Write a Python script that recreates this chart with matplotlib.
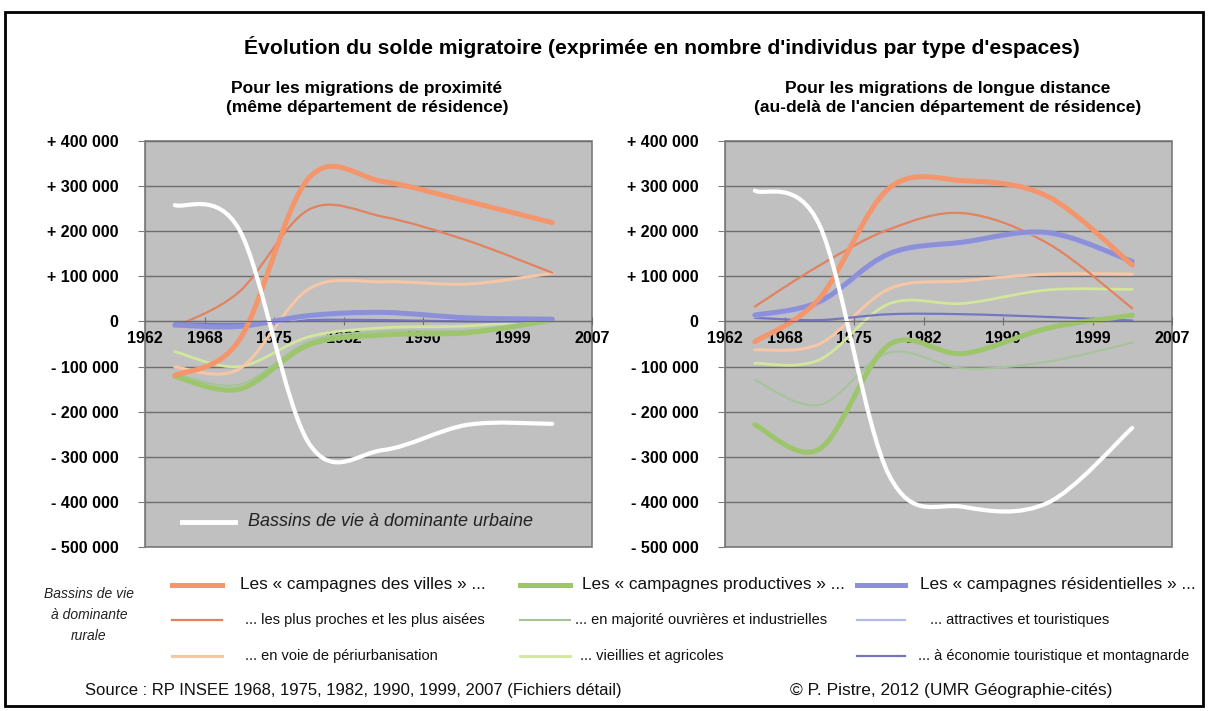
import numpy as np
import matplotlib.pyplot as plt
from matplotlib.path import Path
from matplotlib.patches import PathPatch, Rectangle
from matplotlib.lines import Line2D
from matplotlib.ticker import FuncFormatter

plt.rcParams['font.family'] = ['Liberation Sans', 'DejaVu Sans']

W, H = 1208, 711

# mid-points of the census periods 1962-68, 68-75, 75-82, 82-90, 90-99, 99-2007
years = [1965, 1971.5, 1978.5, 1986, 1994.5, 2003]
year_ticks = [1962, 1968, 1975, 1982, 1990, 1999, 2007]

# migrations de proximité (même département)
prox_urbain = [258000, 203000, -270000, -285000, -229000, -227000]
prox_villes = [-120000, -41000, 318000, 310000, 266000, 219000]
prox_proches = [-12000, 66000, 248000, 232000, 179000, 108000]
prox_periurb = [-101000, -105000, 72000, 88000, 83000, 107000]
prox_productives = [-122000, -150000, -52000, -30000, -25000, 3000]
prox_ouvrieres = [-115000, -140000, -45000, -22000, -20000, 0]
prox_vieillies = [-67000, -100000, -34000, -14000, -10000, 5000]
prox_residentielles = [-8000, -11000, 13000, 20000, 8000, 5000]
prox_attractives = [-12000, -14000, 8000, 15000, 10000, 5000]
prox_montagne = [-4000, -6000, 3000, 3000, 0, 0]

# migrations de longue distance
long_urbain = [290000, 214000, -340000, -411000, -402000, -236000]
long_villes = [-45000, 51000, 295000, 312000, 277000, 125000]
long_proches = [33000, 124000, 204000, 240000, 173000, 29000]
long_periurb = [-63000, -50000, 72000, 90000, 105000, 105000]
long_productives = [-229000, -283000, -52000, -71000, -15000, 14000]
long_ouvrieres = [-130000, -185000, -69000, -104000, -89000, -47000]
long_vieillies = [-93000, -85000, 39000, 40000, 70000, 71000]
long_residentielles = [14000, 44000, 150000, 176000, 197000, 133000]
long_attractives = [10000, 38000, 145000, 172000, 192000, 128000]
long_montagne = [8000, 3000, 16000, 16000, 10000, 2000]

# (name, colour, width) in drawing order; thin first, thick, then urban
styles = [
    ('ouvrieres', '#A5C49A', 1.5),
    ('vieillies', '#D2E69C', 2.0),
    ('periurb', '#F6C6A6', 2.2),
    ('proches', '#E2825E', 1.6),
    ('montagne', '#7377C2', 1.6),
    ('attractives', '#B6B9E8', 1.6),
    ('productives', '#9DC66C', 3.6),
    ('residentielles', '#8C90D8', 3.6),
    ('villes', '#F4956B', 3.6),
    ('urbain', '#FFFFFF', 3.0),
]

left_series = {'urbain': prox_urbain, 'villes': prox_villes, 'proches': prox_proches,
               'periurb': prox_periurb, 'productives': prox_productives,
               'ouvrieres': prox_ouvrieres, 'vieillies': prox_vieillies,
               'residentielles': prox_residentielles, 'attractives': prox_attractives,
               'montagne': prox_montagne}
right_series = {'urbain': long_urbain, 'villes': long_villes, 'proches': long_proches,
                'periurb': long_periurb, 'productives': long_productives,
                'ouvrieres': long_ouvrieres, 'vieillies': long_vieillies,
                'residentielles': long_residentielles, 'attractives': long_attractives,
                'montagne': long_montagne}


def smooth_path(xs, ys):
    # Excel-like smoothed line: cubic Bezier segments through every point
    pts = np.column_stack([xs, ys]).astype(float)
    n = len(pts)
    verts = [pts[0]]
    codes = [Path.MOVETO]
    for i in range(n - 1):
        p0 = pts[max(i - 1, 0)]
        p1, p2 = pts[i], pts[i + 1]
        p3 = pts[min(i + 2, n - 1)]
        verts += [p1 + (p2 - p0) / 6, p2 - (p3 - p1) / 6, p2]
        codes += [Path.CURVE4] * 3
    return Path(verts, codes)


def fmt_y(v, pos):
    if v == 0:
        return '0'
    s = f'{abs(int(v)):,}'.replace(',', ' ')
    return ('+ ' if v > 0 else '- ') + s


def fx(px):
    return px / W


def fy(py):
    return 1 - py / H


fig = plt.figure(figsize=(W / 100, H / 100), dpi=100)
fig.patch.set_facecolor('white')

axes = []
for left_px, series in [(145, left_series), (725, right_series)]:
    ax = fig.add_axes([fx(left_px), fy(547), 447 / W, 406 / H])
    ax.set_facecolor('#C0C0C0')
    ax.patch.set_edgecolor('#7A7A7A')
    ax.patch.set_linewidth(1.2)
    ax.set_xlim(1962, 2007)
    ax.set_ylim(-500000, 400000)
    ax.set_yticks(np.arange(-500000, 400001, 100000))
    ax.set_xticks(year_ticks)
    ax.yaxis.set_major_formatter(FuncFormatter(fmt_y))
    ax.grid(axis='y', color='#6E6E6E', lw=1)
    ax.set_axisbelow(True)
    for s in ['top', 'right']:
        ax.spines[s].set_visible(False)
    ax.spines['left'].set_color('#7A7A7A')
    ax.spines['bottom'].set_position(('data', 0))
    ax.spines['bottom'].set_color('#6E6E6E')
    ax.tick_params(axis='x', direction='inout', length=6, color='#6E6E6E', pad=4)
    ax.tick_params(axis='y', direction='out', length=5, color='#7A7A7A', pad=14)
    for lab in ax.get_xticklabels() + ax.get_yticklabels():
        lab.set_fontweight('bold')
        lab.set_fontsize(11.5)
    for name, color, lw in styles:
        ax.add_patch(PathPatch(smooth_path(years, series[name]), fill=False,
                               ec=color, lw=lw, capstyle='round', joinstyle='round'))
    axes.append(ax)

# légende interne (bassins urbains)
fig.add_artist(Line2D([fx(182), fx(235)], [fy(522), fy(522)], color='white', lw=3.5))
fig.text(fx(248), fy(522), 'Bassins de vie à dominante urbaine', fontsize=13,
         style='italic', color='#222222', va='center')

# titres
fig.text(fx(662), fy(47), "Évolution du solde migratoire (exprimée en nombre d'individus par type d'espaces)",
         fontsize=15.2, fontweight='bold', ha='center', va='center')
fig.text(fx(367), fy(98), 'Pour les migrations de proximité\n(même département de résidence)',
         fontsize=12.5, fontweight='bold', ha='center', va='center', linespacing=1.4)
fig.text(fx(948), fy(98), "Pour les migrations de longue distance\n(au-delà de l'ancien département de résidence)",
         fontsize=12.5, fontweight='bold', ha='center', va='center', linespacing=1.4)

# légende des bassins ruraux
fig.text(fx(89), fy(615), 'Bassins de vie\nà dominante\nrurale', fontsize=10, style='italic',
         ha='center', va='center', linespacing=1.6, color='#222222')

legend_rows = [
    (585, 12.4, [('villes', 'Les « campagnes des villes » ...'),
                 ('productives', 'Les « campagnes productives » ...'),
                 ('residentielles', 'Les « campagnes résidentielles » ...')]),
    (620, 10.5, [('proches', '... les plus proches et les plus aisées'),
                 ('ouvrieres', '... en majorité ouvrières et industrielles'),
                 ('attractives', '... attractives et touristiques')]),
    (656, 10.5, [('periurb', '... en voie de périurbanisation'),
                 ('vieillies', '... vieillies et agricoles'),
                 ('montagne', '... à économie touristique et montagnarde')]),
]
style_map = {name: (color, lw) for name, color, lw in styles}
col_line = [(172, 222), (520, 570), (857, 905)]
col_text = [[240, 582, 920], [245, 575, 930], [245, 580, 918]]
for r, (ypx, fs, items) in enumerate(legend_rows):
    for c, (name, label) in enumerate(items):
        color, lw = style_map[name]
        fig.add_artist(Line2D([fx(col_line[c][0]), fx(col_line[c][1])], [fy(ypx), fy(ypx)],
                              color=color, lw=lw))
        fig.text(fx(col_text[r][c]), fy(ypx), label, fontsize=fs, va='center', color='#111111')

fig.text(fx(85), fy(690), 'Source : RP INSEE 1968, 1975, 1982, 1990, 1999, 2007 (Fichiers détail)',
         fontsize=12, va='center', color='#111111')
fig.text(fx(790), fy(690), '© P. Pistre, 2012 (UMR Géographie-cités)',
         fontsize=12.5, va='center', color='#111111')

# cadre
fig.add_artist(Rectangle((fx(5), fy(706)), fx(1198), 694 / H, transform=fig.transFigure,
                         fill=False, ec='black', lw=2))

fig.savefig('out.png', dpi=100)
